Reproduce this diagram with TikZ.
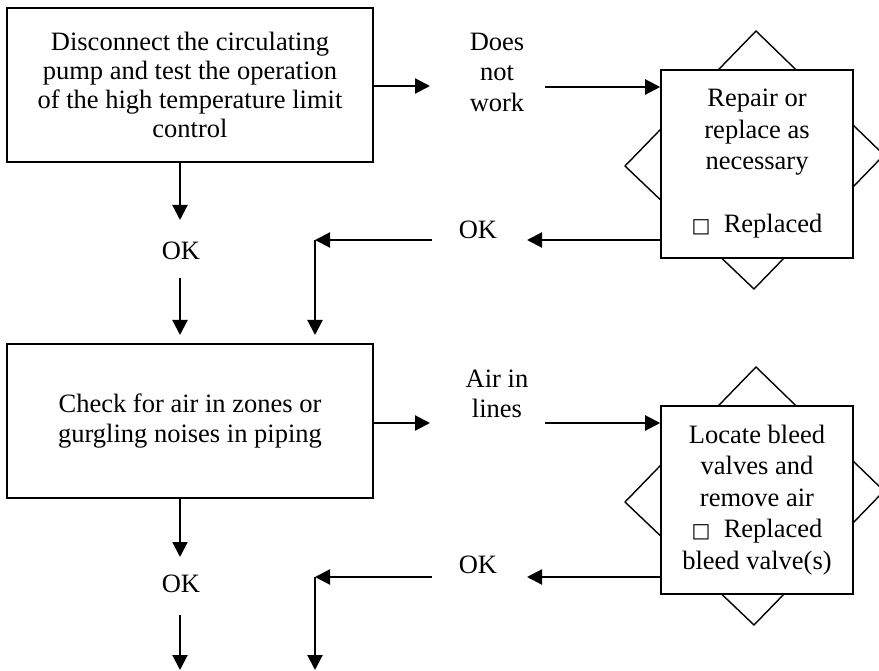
\documentclass[tikz,border=0pt]{standalone}
\usepackage{fontspec}
\setmainfont{Liberation Serif}
\newfontfamily\glyphfont{DejaVu Sans}
\usetikzlibrary{arrows.meta}

\newcommand{\chkbox}{{\glyphfont\fontsize{20}{20}\selectfont □}}

\tikzset{
  procbox/.style={draw, line width=1.6pt, fill=white, align=center, inner sep=0pt,
    minimum width=366pt, minimum height=154pt},
  fixbox/.style={draw, line width=1.6pt, fill=white, align=center, inner sep=0pt,
    minimum width=192pt, minimum height=188pt, font=\fontsize{26.5}{31.5}\selectfont},
  lbl/.style={align=center, inner sep=0pt},
  arr/.style={line width=2.2pt, -{Triangle[length=15pt,width=15pt]}},
  diam/.style={line width=1.4pt},
}

\begin{document}
\begin{tikzpicture}[x=1pt,y=-1pt,font=\fontsize{26.5}{30.5}\selectfont]
\useasboundingbox (0,0) rectangle (879,671);
\clip (0,0) rectangle (879,671);
\fill[white] (0,0) rectangle (879,671);

% star outlines behind the repair boxes
\foreach \dy in {0,336} {
 \draw[diam] (756,31+\dy) -- (884,155+\dy) -- (754,289+\dy) -- (625,166+\dy) -- cycle;
}

% first check
\node[procbox, font=\fontsize{26.5}{29}\selectfont] (p1) at (190,85)
  {Disconnect the circulating\\pump and test the operation\\of the high temperature limit\\control};
\node[fixbox] (f1) at (757,164) {Repair or\\replace as\\necessary\\[31.5pt]\chkbox\ \ Replaced};
\node[lbl] (dnw) at (497,72) {Does\\not\\work};
\node[lbl] (okl1) at (181,251) {OK};
\node[lbl] (okr1) at (478,230) {OK};

\coordinate (dnwL) at (430,86);
\coordinate (dnwR) at (545,87);
\coordinate (okr1R) at (527,240);
\coordinate (okr1L) at (432,240);
\coordinate (turn1) at (315,240);
\coordinate (down1) at (315,335);
\coordinate (okl1T) at (180,220);
\coordinate (okl1B) at (180,278);
\coordinate (next1) at (180,335);

\draw[arr] (p1.east |- dnwL) -- (dnwL);
\draw[arr] (dnwR) -- (dnwR -| f1.west);
\draw[arr] (okr1R -| f1.west) -- (okr1R);
\draw[arr] (okr1L) -- (turn1);
\draw[arr] (turn1) -- (down1);
\draw[arr] (p1.south -| okl1T) -- (okl1T);
\draw[arr] (okl1B) -- (next1);

% second check
\node[procbox] (p2) at (190,421) {Check for air in zones or\\gurgling noises in piping};
\node[fixbox] (f2) at (757,500) {Locate bleed\\valves and\\remove air\\\chkbox\ \ Replaced\\bleed valve(s)};
\node[lbl] (ail) at (497,394) {Air in\\lines};
\node[lbl] (okl2) at (181,584) {OK};
\node[lbl] (okr2) at (478,565) {OK};

\coordinate (ailL) at (430,423);
\coordinate (ailR) at (545,423);
\coordinate (okr2R) at (527,577);
\coordinate (okr2L) at (432,577);
\coordinate (turn2) at (315,577);
\coordinate (down2) at (315,670);
\coordinate (okl2T) at (180,557);
\coordinate (okl2B) at (180,615);
\coordinate (next2) at (180,670);

\draw[arr] (p2.east |- ailL) -- (ailL);
\draw[arr] (ailR) -- (ailR -| f2.west);
\draw[arr] (okr2R -| f2.west) -- (okr2R);
\draw[arr] (okr2L) -- (turn2);
\draw[arr] (turn2) -- (down2);
\draw[arr] (p2.south -| okl2T) -- (okl2T);
\draw[arr] (okl2B) -- (next2);
\end{tikzpicture}
\end{document}
